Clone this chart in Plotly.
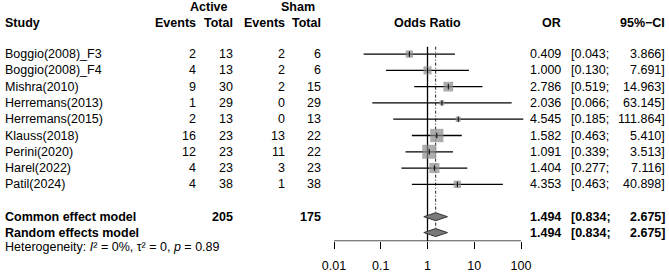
import plotly.graph_objects as go
import math

studies = ["Boggio(2008)_F3", "Boggio(2008)_F4", "Mishra(2010)", "Herremans(2013)",
           "Herremans(2015)", "Klauss(2018)", "Perini(2020)", "Harel(2022)", "Patil(2024)"]
act_events = [2, 4, 9, 1, 2, 16, 12, 4, 4]
act_total = [13, 13, 30, 29, 13, 23, 23, 23, 38]
sham_events = [2, 2, 2, 0, 0, 13, 11, 3, 1]
sham_total = [6, 6, 15, 29, 13, 22, 22, 23, 38]
or_vals = [0.409, 1.000, 2.786, 2.036, 4.545, 1.582, 1.091, 1.404, 4.353]
ci_low = [0.043, 0.130, 0.519, 0.066, 0.185, 0.463, 0.339, 0.277, 0.463]
ci_high = [3.866, 7.691, 14.963, 63.145, 111.864, 5.410, 3.513, 7.116, 40.898]
weights = [6.7, 8.2, 12.0, 2.9, 3.3, 22.4, 24.8, 12.9, 6.8]  # % weight (common effect)

models = ["Common effect model", "Random effects model"]
model_or = [1.494, 1.494]
model_low = [0.834, 0.834]
model_high = [2.675, 2.675]
total_active = 205
total_sham = 175
het_text = "Heterogeneity: <i>I</i>² = 0%, τ² = 0, <i>p</i> = 0.89"

tick_vals = [0.01, 0.1, 1, 10, 100]
tick_text = ["0.01", "0.1", "1", "10", "100"]

W, H = 669, 273
FONT = "Liberation Sans, Arial, sans-serif"
row_y = [54.5 + i * 16.4 for i in range(len(studies))]
model_y = [218.3, 234.3]
axis_y = 243
top_y = 47

# x-axis mapping: 0.01 at px 334, 100 at px 521
x0px, x1px = 334.0, 521.0
dec = (x1px - x0px) / 4.0
rmin, rmax = -2.25, 2.25
dom0 = (x0px + (rmin + 2) * dec) / W
dom1 = (x0px + (rmax + 2) * dec) / W

fig = go.Figure()

# reference lines
fig.add_trace(go.Scatter(x=[1, 1], y=[top_y, axis_y], mode="lines",
                         line=dict(color="black", width=1.3), hoverinfo="skip"))
fig.add_trace(go.Scatter(x=[model_or[0], model_or[0]], y=[top_y, model_y[1]], mode="lines",
                         line=dict(color="#222", width=1, dash="3px,2px,1px,2px"), hoverinfo="skip"))

# CI lines
for i in range(len(studies)):
    fig.add_trace(go.Scatter(x=[ci_low[i], ci_high[i]], y=[row_y[i], row_y[i]], mode="lines",
                             line=dict(color="black", width=1.3), hoverinfo="skip"))

# squares
sizes = [2.81 * math.sqrt(w) for w in weights]
fig.add_trace(go.Scatter(x=or_vals, y=row_y, mode="markers",
                         marker=dict(symbol="square", size=sizes, color="#8a8a8a",
                                     line=dict(width=0)), cliponaxis=False, hoverinfo="skip"))
fig.add_trace(go.Scatter(x=or_vals, y=row_y, mode="markers",
                         marker=dict(symbol="line-ns-open", size=4, color="black",
                                     line=dict(width=1, color="black")), cliponaxis=False, hoverinfo="skip"))

# diamonds
for j in range(2):
    y = model_y[j]
    fig.add_trace(go.Scatter(x=[model_low[j], model_or[j], model_high[j], model_or[j], model_low[j]],
                             y=[y, y - 4, y, y + 4, y], mode="lines", fill="toself",
                             fillcolor="#7a7a7a", line=dict(color="#333", width=1), hoverinfo="skip"))

# axis baseline
fig.add_shape(type="line", x0=0.01, x1=100, y0=axis_y, y1=axis_y, xref="x", yref="y",
              line=dict(color="black", width=1.3))

ann = []
def T(x, y, s, anchor="left", bold=False, size=12.5):
    txt = f"<b>{s}</b>" if bold else s
    ann.append(dict(x=x / W, y=1 - y / H, xref="paper", yref="paper", text=txt, showarrow=False,
                    xanchor=anchor, yanchor="middle",
                    font=dict(family=FONT, size=size, color="black")))

# headers
T(209, 7, "Active", "center", True)
T(297.5, 7, "Sham", "center", True)
T(3, 23.5, "Study", "left", True)
T(197.5, 23.5, "Events", "right", True)
T(235, 23.5, "Total", "right", True)
T(286.5, 23.5, "Events", "right", True)
T(323, 23.5, "Total", "right", True)
T(427, 23.5, "Odds Ratio", "center", True)
T(563, 23.5, "OR", "right", True)
T(667, 23.5, "95%−CI", "right", True)

for i, s in enumerate(studies):
    y = row_y[i]
    T(3, y, s)
    T(197.5, y, str(act_events[i]), "right")
    T(235, y, str(act_total[i]), "right")
    T(286.5, y, str(sham_events[i]), "right")
    T(323, y, str(sham_total[i]), "right")
    T(563, y, f"{or_vals[i]:.3f}", "right")
    T(569, y, f"[{ci_low[i]:.3f};", "left")
    T(667, y, f"{ci_high[i]:.3f}]", "right")

for j, m in enumerate(models):
    y = model_y[j]
    T(3, y, m, "left", True)
    T(563, y, f"{model_or[j]:.3f}", "right", True)
    T(569, y, f"[{model_low[j]:.3f};", "left", True)
    T(667, y, f"{model_high[j]:.3f}]", "right", True)
T(235, model_y[0], str(total_active), "right", True)
T(323, model_y[0], str(total_sham), "right", True)
T(3, 248.5, het_text, "left", False, 12.5)

fig.update_layout(
    width=W, height=H, margin=dict(l=0, r=0, t=0, b=0),
    paper_bgcolor="white", plot_bgcolor="white", showlegend=False,
    annotations=ann,
    xaxis=dict(type="log", range=[rmin, rmax], domain=[dom0, dom1],
               tickvals=tick_vals, ticktext=tick_text, ticks="outside", ticklen=7,
               tickwidth=1.3, tickcolor="black", showgrid=False, zeroline=False, showline=False,
               tickfont=dict(family=FONT, size=12.5, color="black"), ticklabelstandoff=6),
    yaxis=dict(range=[axis_y, 0], domain=[1 - axis_y / H, 1], visible=False,
               showgrid=False, zeroline=False),
)

fig.write_html("out.html")
